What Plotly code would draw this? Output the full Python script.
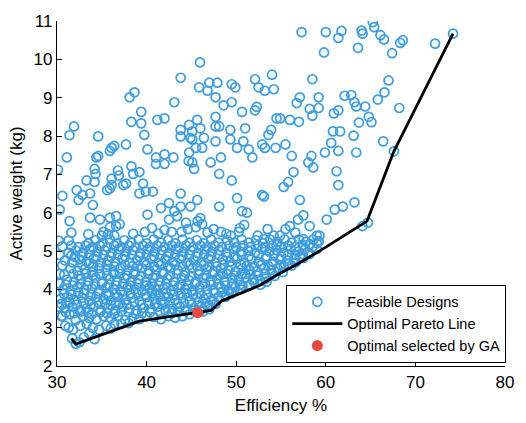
import plotly.graph_objects as go

# Sparse designs (upper part of the design space): (efficiency %, active weight kg)
sparse_designs = [
    (30.1, 7.12), (31.1, 7.44), (31.4, 8.02), (31.9, 8.25), (30.6, 6.44), (30.3, 6.08),
    (31.4, 5.78), (32.2, 6.59), (32.85, 6.46), (33.7, 6.5), (32.4, 6.33), (33.3, 6.84),
    (34.2, 6.8), (34.3, 7.01), (34.2, 7.14), (34.4, 7.44), (34.6, 7.48), (34.6, 7.99),
    (34.0, 6.2), (33.7, 5.87), (34.8, 5.82), (35.9, 7.61), (36.1, 7.69), (36.4, 7.74),
    (36.1, 6.89), (36.8, 7.1), (36.9, 6.97), (36.1, 6.72), (37.7, 6.76), (35.6, 6.59),
    (35.9, 6.63), (37.4, 6.72), (37.7, 7.78), (38.1, 9.01), (38.65, 9.14), (38.3, 8.37),
    (39.4, 8.63), (39.4, 8.33), (39.75, 8.03), (38.3, 7.21), (38.5, 7.01), (39.2, 7.06),
    (39.2, 6.5), (39.9, 6.55), (40.7, 6.55), (39.6, 6.76), (40.1, 7.65), (41.05, 7.44),
    (41.05, 7.27), (42.0, 7.52), (42.0, 7.27), (41.2, 8.42), (42.0, 8.46), (43.0, 7.44),
    (43.1, 8.88), (43.8, 9.52), (43.8, 8.16), (43.8, 7.99), (44.75, 8.29), (44.75, 7.57),
    (45.1, 7.31), (45.3, 7.14), (45.1, 8.12), (45.1, 7.91), (45.5, 7.69), (45.65, 8.42),
    (46.0, 8.2), (45.85, 9.27), (45.96, 9.92), (46.2, 7.69), (47.0, 9.39), (46.8, 9.18),
    (47.9, 9.39), (47.7, 9.01), (47.7, 8.5), (47.7, 8.25), (48.1, 8.25), (47.15, 7.31),
    (48.1, 7.01), (48.3, 7.44), (47.7, 7.86), (48.6, 8.8), (49.5, 8.88), (49.5, 9.35),
    (49.9, 9.27), (49.35, 8.16), (49.35, 7.91), (49.5, 6.84), (50.1, 7.69), (50.65, 8.63),
    (50.8, 7.86), (51.0, 8.2), (51.4, 7.65), (51.8, 7.44), (52.1, 8.67), (52.3, 8.76),
    (52.1, 9.48), (52.5, 9.27), (53.2, 9.18), (52.9, 7.78), (53.2, 7.69), (53.6, 8.03),
    (53.9, 8.16), (54.0, 9.6), (54.2, 9.22), (54.4, 7.69), (54.5, 8.46), (44.9, 7.95),
    (46.4, 7.95), (44.7, 7.35), (35.9, 5.87), (36.6, 5.91), (36.6, 5.65), (40.1, 5.95),
    (41.6, 6.12), (42.5, 6.25), (43.1, 6.04), (43.8, 6.5), (43.8, 6.16), (44.9, 6.16),
    (45.65, 6.33), (42.5, 5.82), (43.4, 5.91), (48.1, 6.16), (50.1, 6.38), (50.65, 6.04),
    (51.2, 6.0), (53.1, 6.42), (52.9, 6.46), (55.3, 6.67), (55.8, 6.8), (56.4, 7.06),
    (57.1, 6.33), (54.9, 8.46), (56.0, 8.42), (57.0, 8.37), (57.1, 9.01), (56.75, 8.86),
    (58.2, 8.71), (58.5, 8.53), (59.2, 8.73), (59.2, 9.01), (58.5, 9.48), (55.5, 7.78),
    (56.2, 7.48), (58.05, 7.31), (58.6, 7.18), (58.4, 7.48), (59.9, 7.57), (60.6, 7.82),
    (60.8, 8.12), (61.6, 8.12), (61.4, 7.61), (61.2, 7.08), (61.4, 6.72), (60.9, 8.59),
    (61.4, 8.67), (62.1, 9.05), (62.85, 9.07), (63.2, 8.88), (63.4, 8.77), (64.4, 8.77),
    (64.8, 8.5), (65.1, 8.36), (63.7, 8.35), (63.1, 8.01), (63.4, 7.57), (65.8, 8.95),
    (66.55, 9.14), (67.0, 9.45), (68.2, 8.73), (66.4, 7.86), (67.6, 7.6), (57.3, 10.71),
    (60.0, 10.71), (61.75, 10.74), (61.4, 10.56), (59.8, 10.18), (63.6, 10.3), (64.0, 10.75),
    (64.1, 10.67), (65.25, 10.97), (65.4, 10.84), (66.1, 10.63), (66.5, 10.52), (68.3, 10.43),
    (68.6, 10.5), (67.4, 10.16), (72.2, 10.41), (74.2, 10.67), (60.1, 5.82), (61.0, 6.08),
    (61.9, 6.16), (63.2, 6.27), (64.1, 5.65), (64.7, 5.74),
]

# Dense cluster of feasible designs just above the Pareto front
dense_designs = [
    (31.7, 2.72), (32.1, 2.58), (32.5, 2.62), (33.0, 2.75), (34.2, 2.70), (33.6, 2.85),
    (30.9, 3.05), (31.3, 3.0), (31.8, 2.95), (32.6, 3.05), (33.3, 3.1), (34.0, 3.0),
    (34.7, 2.95), (35.5, 3.05), (36.4, 3.1), (37.2, 3.1), (30.5, 3.3), (36.0, 2.98), (38.0, 3.12),
    (30.2, 3.55), (30.6, 3.3), (31.4, 3.35), (32.1, 3.2), (32.9, 3.3), (33.6, 3.25),
    (34.4, 3.22), (35.2, 3.3), (36.0, 3.25), (36.8, 3.3), (37.6, 3.2), (38.4, 3.25),
    (39.2, 3.22), (40.0, 3.3), (40.8, 3.28), (41.6, 3.22), (42.4, 3.3), (43.2, 3.26),
    (44.0, 3.3), (44.8, 3.35), (46.3, 3.42), (47.0, 3.48),
    (30.9, 3.5), (31.7, 3.55), (32.5, 3.45), (33.3, 3.5), (34.1, 3.55), (34.9, 3.45),
    (35.7, 3.52), (36.5, 3.45), (37.3, 3.55), (38.1, 3.5), (38.9, 3.45), (39.7, 3.52),
    (40.5, 3.48), (41.3, 3.55), (42.1, 3.45), (42.9, 3.5), (43.7, 3.55), (44.5, 3.48),
    (45.3, 3.52), (46.1, 3.55), (46.9, 3.6), (47.7, 3.62),
    (30.4, 3.75), (31.2, 3.8), (32.0, 3.72), (32.8, 3.78), (33.6, 3.7), (34.4, 3.8),
    (35.2, 3.75), (36.0, 3.7), (36.8, 3.8), (37.6, 3.72), (38.4, 3.78), (39.2, 3.7),
    (40.0, 3.8), (40.8, 3.74), (41.6, 3.7), (42.4, 3.8), (43.2, 3.72), (44.0, 3.78),
    (44.8, 3.7), (45.6, 3.8), (46.4, 3.75), (47.2, 3.72), (48.0, 3.8), (48.8, 3.85),
    (30.7, 4.0), (31.5, 3.95), (32.3, 4.05), (33.1, 3.98), (33.9, 4.02), (34.7, 3.95),
    (35.5, 4.05), (36.3, 4.0), (37.1, 3.96), (37.9, 4.05), (38.7, 4.0), (39.5, 3.95),
    (40.3, 4.04), (41.1, 3.98), (41.9, 4.02), (42.7, 3.96), (43.5, 4.05), (44.3, 4.0),
    (45.1, 3.95), (45.9, 4.05), (46.7, 4.0), (47.5, 3.97), (48.3, 4.05), (49.1, 3.98),
    (49.9, 4.05), (50.7, 4.1), (51.5, 4.12),
    (30.3, 4.4), (31.1, 4.25), (31.9, 4.2), (32.7, 4.28), (33.5, 4.22), (34.3, 4.3),
    (35.1, 4.2), (35.9, 4.27), (36.7, 4.22), (37.5, 4.3), (38.3, 4.2), (39.1, 4.26),
    (39.9, 4.2), (40.7, 4.3), (41.5, 4.22), (42.3, 4.28), (43.1, 4.2), (43.9, 4.3),
    (44.7, 4.24), (45.5, 4.2), (46.3, 4.3), (47.1, 4.22), (47.9, 4.28), (48.7, 4.2),
    (49.5, 4.3), (50.3, 4.25), (51.1, 4.3), (51.9, 4.25), (52.7, 4.22), (53.3, 4.28),
    (31.5, 4.55), (32.3, 4.48), (33.1, 4.52), (33.9, 4.45), (34.7, 4.55), (35.5, 4.5),
    (36.3, 4.45), (37.1, 4.55), (37.9, 4.5), (38.7, 4.46), (39.5, 4.55), (40.3, 4.48),
    (41.1, 4.52), (41.9, 4.45), (42.7, 4.55), (43.5, 4.5), (44.3, 4.45), (45.1, 4.55),
    (45.9, 4.48), (46.7, 4.52), (47.5, 4.46), (48.3, 4.55), (49.1, 4.5), (49.9, 4.45),
    (50.7, 4.55), (51.5, 4.5), (52.3, 4.47), (53.1, 4.55), (53.9, 4.5), (54.6, 4.55), (55.3, 4.6),
    (30.9, 4.75), (31.7, 4.7), (32.5, 4.78), (33.3, 4.72), (34.1, 4.8), (34.9, 4.7),
    (35.7, 4.76), (36.5, 4.72), (37.3, 4.8), (38.1, 4.7), (38.9, 4.76), (39.7, 4.72),
    (40.5, 4.8), (41.3, 4.7), (42.1, 4.78), (42.9, 4.72), (43.7, 4.8), (44.5, 4.7),
    (45.3, 4.76), (46.1, 4.72), (46.9, 4.8), (47.7, 4.7), (48.5, 4.78), (49.3, 4.72),
    (50.1, 4.8), (50.9, 4.7), (51.7, 4.78), (52.5, 4.72), (53.3, 4.8), (54.1, 4.72),
    (54.9, 4.78), (55.7, 4.75), (56.5, 4.8), (57.1, 4.85),
    (30.3, 4.9), (31.3, 4.95), (32.1, 5.02), (32.9, 4.96), (33.7, 5.05), (34.5, 4.98),
    (35.3, 5.02), (36.1, 4.95), (36.9, 5.05), (37.7, 4.98), (38.5, 5.02), (39.3, 4.95),
    (40.1, 5.05), (40.9, 4.98), (41.7, 5.02), (42.5, 4.96), (43.3, 5.05), (44.1, 4.98),
    (44.9, 5.02), (45.7, 4.95), (46.5, 5.05), (47.3, 4.98), (48.1, 5.02), (48.9, 4.96),
    (49.7, 5.05), (50.5, 4.98), (51.3, 5.02), (52.1, 4.96), (52.9, 5.05), (53.7, 4.98),
    (54.5, 5.02), (55.3, 4.96), (56.1, 5.05), (56.9, 4.98), (57.7, 5.05), (58.5, 5.1),
    (30.2, 5.27), (31.3, 5.27), (33.5, 5.2), (34.3, 5.28), (35.1, 5.22), (35.9, 5.3),
    (36.7, 5.2), (37.5, 5.28), (38.3, 5.22), (39.1, 5.3), (40.0, 5.2), (40.8, 5.3),
    (41.6, 5.22), (42.4, 5.28), (43.2, 5.2), (44.0, 5.3), (44.8, 5.22), (45.6, 5.28),
    (46.4, 5.2), (47.2, 5.3), (48.0, 5.22), (49.0, 5.28), (49.8, 5.22), (50.6, 5.3),
    (51.4, 5.22), (52.2, 5.28), (53.0, 5.2), (53.8, 5.3), (54.6, 5.24), (55.4, 5.3),
    (56.2, 5.22), (57.0, 5.3), (57.8, 5.24), (58.6, 5.3), (59.2, 5.25), (59.3, 5.4),
    (31.6, 5.48), (33.5, 5.44), (35.0, 5.4), (35.7, 5.44), (36.4, 5.4), (35.2, 5.5),
    (35.9, 5.62), (37.0, 5.7), (43.9, 5.5), (44.6, 5.57), (45.5, 5.62), (46.2, 5.7),
    (46.8, 5.48), (47.5, 5.57), (45.7, 5.78), (44.4, 5.74), (50.4, 5.6), (50.9, 5.68),
    (49.4, 5.4), (50.3, 5.5), (52.4, 5.4), (53.1, 5.31), (53.5, 5.57), (54.2, 5.4),
    (54.9, 5.4), (55.5, 5.57), (56.0, 5.65), (56.6, 5.48), (56.9, 5.82), (57.5, 5.93),
    (57.5, 5.31), (58.2, 5.65), (59.0, 5.4), (48.3, 5.5), (48.9, 5.45), (39.8, 5.5),
    (40.6, 5.6), (41.3, 5.45), (42.0, 5.55), (42.8, 5.5), (38.5, 5.45), (46.0, 5.86),
    (31.0, 3.65), (33.0, 3.9), (35.0, 4.15), (37.0, 4.4), (39.0, 4.6), (41.0, 3.85),
    (43.0, 4.1), (45.0, 4.35), (47.0, 4.6), (49.0, 4.85), (38.0, 3.4), (42.0, 3.65),
    (44.5, 3.9), (46.5, 4.15), (48.5, 4.4), (50.5, 4.65), (52.5, 4.9), (54.5, 5.15),
    (36.0, 3.6), (40.0, 4.1), (34.0, 4.6), (32.0, 4.85), (33.5, 3.4), (46.0, 3.45),
    (48.8, 3.8), (49.5, 3.9), (50.5, 4.0), (51.5, 4.1), (52.7, 4.12), (53.4, 4.2),
    (54.3, 4.35), (55.2, 4.45), (56.2, 4.62), (56.6, 4.7), (57.5, 4.82), (58.2, 4.92),
    (59.0, 5.05), (55.8, 4.9), (54.0, 4.65), (51.0, 4.4), (39.5, 3.38), (41.5, 3.4),
    (43.5, 3.42), (37.0, 3.62), (35.5, 3.88), (30.3, 4.15), (31.8, 4.4), (33.6, 4.68),
]

# Second, interleaved layer of the same cluster
dense_designs_b = [
    (31.0, 3.4), (31.9, 3.38), (32.7, 3.42), (33.9, 3.36), (34.8, 3.4), (35.6, 3.38),
    (36.4, 3.36), (37.2, 3.42), (38.8, 3.36), (40.4, 3.4), (42.8, 3.38), (44.4, 3.44), (45.2, 3.45),
    (30.5, 3.62), (31.4, 3.66), (32.2, 3.6), (33.0, 3.64), (33.8, 3.6), (34.6, 3.66),
    (35.4, 3.62), (36.6, 3.64), (37.8, 3.6), (38.6, 3.66), (39.4, 3.6), (40.2, 3.64),
    (41.0, 3.62), (41.8, 3.6), (42.6, 3.66), (43.4, 3.62), (44.2, 3.64), (45.0, 3.6),
    (45.8, 3.66), (46.6, 3.62), (47.4, 3.7),
    (30.8, 3.88), (31.6, 3.86), (32.4, 3.9), (33.8, 3.86), (34.6, 3.9), (35.8, 3.86),
    (36.6, 3.9), (37.4, 3.86), (38.2, 3.9), (39.0, 3.88), (39.8, 3.86), (40.6, 3.9),
    (41.4, 3.86), (42.2, 3.9), (43.0, 3.86), (43.8, 3.9), (45.2, 3.86), (46.0, 3.9),
    (46.8, 3.86), (47.6, 3.9), (48.4, 3.92), (49.2, 3.94),
    (31.0, 4.12), (31.8, 4.1), (32.6, 4.14), (33.4, 4.1), (34.2, 4.14), (35.8, 4.12),
    (36.6, 4.1), (37.4, 4.14), (38.2, 4.1), (39.0, 4.14), (39.8, 4.1), (40.6, 4.14),
    (41.4, 4.1), (42.2, 4.14), (43.8, 4.12), (44.6, 4.1), (45.4, 4.14), (47.2, 4.12),
    (48.0, 4.14), (48.8, 4.1), (49.6, 4.14), (50.4, 4.12), (52.0, 4.18),
    (30.8, 4.38), (32.4, 4.36), (33.2, 4.4), (34.0, 4.36), (34.8, 4.4), (35.6, 4.36),
    (36.4, 4.4), (37.8, 4.36), (38.6, 4.4), (39.4, 4.36), (40.2, 4.4), (41.0, 4.36),
    (41.8, 4.4), (42.6, 4.36), (43.4, 4.4), (44.2, 4.36), (45.8, 4.4), (46.6, 4.36),
    (47.4, 4.4), (48.2, 4.36), (49.0, 4.4), (49.8, 4.36), (50.6, 4.4), (51.6, 4.38),
    (52.4, 4.36), (53.2, 4.4), (54.0, 4.42),
    (30.6, 4.62), (32.8, 4.64), (34.8, 4.62), (35.6, 4.64), (36.4, 4.6), (37.6, 4.64),
    (38.4, 4.6), (40.0, 4.64), (40.8, 4.6), (41.6, 4.64), (42.4, 4.6), (43.2, 4.64),
    (44.0, 4.6), (44.8, 4.64), (45.6, 4.6), (46.4, 4.64), (47.8, 4.6), (48.6, 4.64),
    (49.4, 4.6), (51.2, 4.62), (52.0, 4.6), (52.8, 4.64), (53.6, 4.6), (55.0, 4.62), (55.8, 4.66),
    (31.6, 4.88), (32.8, 4.86), (33.6, 4.9), (34.4, 4.86), (35.2, 4.9), (36.0, 4.86),
    (36.8, 4.9), (37.6, 4.86), (38.4, 4.9), (39.2, 4.86), (40.0, 4.9), (40.8, 4.86),
    (41.6, 4.9), (42.4, 4.86), (43.2, 4.9), (44.0, 4.86), (44.8, 4.9), (45.6, 4.86),
    (46.4, 4.9), (47.2, 4.86), (48.0, 4.9), (49.8, 4.86), (50.6, 4.9), (51.4, 4.86),
    (53.4, 4.86), (54.2, 4.9), (55.0, 4.86), (56.6, 4.9), (57.4, 4.92), (58.0, 4.95),
    (30.6, 5.12), (31.6, 5.14), (32.4, 5.1), (33.2, 5.14), (34.0, 5.1), (34.8, 5.14),
    (35.6, 5.1), (36.4, 5.14), (37.2, 5.1), (38.0, 5.14), (38.8, 5.1), (39.6, 5.14),
    (40.4, 5.1), (41.2, 5.14), (42.0, 5.1), (42.8, 5.14), (43.6, 5.1), (44.4, 5.14),
    (45.2, 5.1), (46.0, 5.14), (46.8, 5.1), (47.6, 5.14), (48.4, 5.1), (49.2, 5.14),
    (50.0, 5.1), (50.8, 5.14), (51.6, 5.1), (52.4, 5.14), (53.2, 5.1), (54.0, 5.14),
    (55.0, 5.12), (55.8, 5.14), (56.6, 5.1), (57.4, 5.16), (58.2, 5.18), (59.0, 5.2),
]

# Pareto front and the design selected by the genetic algorithm
pareto_eff = [31.6, 32.1, 39.2, 45.7, 47.2, 48.4, 52.6, 54.3, 57.0, 60.0, 63.5, 64.6, 67.6, 74.2]
pareto_wt = [2.72, 2.57, 3.17, 3.40, 3.45, 3.70, 4.10, 4.34, 4.68, 5.10, 5.63, 5.78, 7.60, 10.67]
ga_eff = [45.7]
ga_wt = [3.39]

designs = sparse_designs + dense_designs + dense_designs_b
feas_eff = [p[0] for p in designs]
feas_wt = [p[1] for p in designs]

BLUE = "#3d9de0"
FONT = "Liberation Sans, Arial, sans-serif"

fig = go.Figure()
fig.add_trace(go.Scatter(
    x=feas_eff, y=feas_wt, mode="markers", name="Feasible Designs",
    marker=dict(symbol="circle-open", size=9, color=BLUE,
                line=dict(color=BLUE, width=1.7)),
))
fig.add_trace(go.Scatter(
    x=pareto_eff, y=pareto_wt, mode="lines", name="Optimal Pareto Line",
    line=dict(color="black", width=2.8),
))
fig.add_trace(go.Scatter(
    x=ga_eff, y=ga_wt, mode="markers", name="Optimal selected by GA",
    marker=dict(symbol="circle", size=11, color="#e8493f"),
))

axis_common = dict(
    showline=True, linecolor="black", linewidth=1.2,
    ticks="inside", ticklen=5, tickcolor="black", tickwidth=1,
    showgrid=False, zeroline=False, mirror=False,
    tickfont=dict(family=FONT, size=17, color="black"),
)

fig.update_layout(
    width=526, height=423, autosize=False,
    margin=dict(l=57, r=18, t=17, b=53),
    paper_bgcolor="white", plot_bgcolor="white",
    font=dict(family=FONT, color="black"),
    xaxis=dict(range=[30, 80], tickvals=[30, 40, 50, 60, 70, 80],
               title=dict(text="Efficiency %", font=dict(family=FONT, size=17), standoff=8),
               **axis_common),
    yaxis=dict(range=[2, 11], tickvals=list(range(2, 12)),
               title=dict(text="Active weight (kg)", font=dict(family=FONT, size=17), standoff=6),
               **axis_common),
    legend=dict(
        x=1.003, y=0.009, xanchor="right", yanchor="bottom",
        bgcolor="white", bordercolor="black", borderwidth=1,
        font=dict(family=FONT, size=14.5, color="black"),
        itemwidth=50, tracegroupgap=0,
    ),
    showlegend=True,
)

fig.write_html("out.html")
